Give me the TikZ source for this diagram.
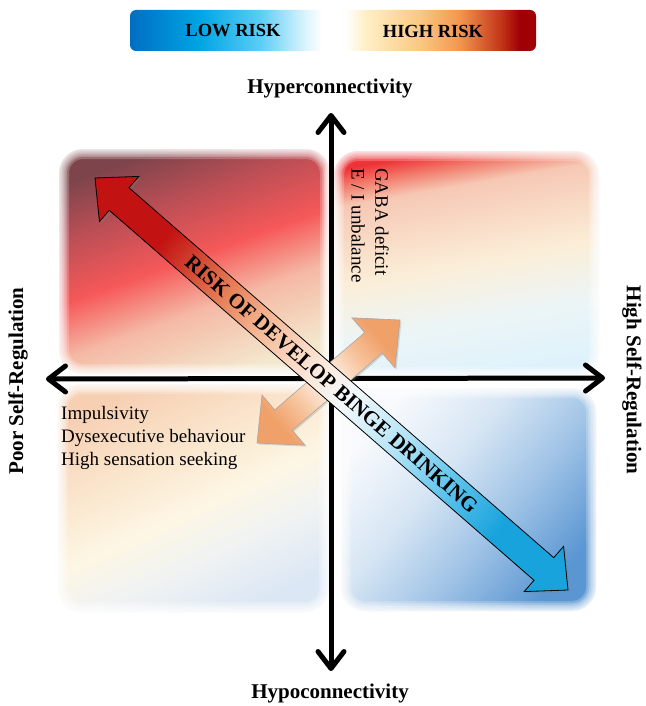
\documentclass[tikz,border=0pt]{standalone}
\usepackage{fontspec}
\setmainfont{Liberation Serif}
\usetikzlibrary{arrows.meta,shadows}

% colour bar
\definecolor{barA}{RGB}{0,110,195}
\definecolor{barB}{RGB}{0,165,228}
\definecolor{barC}{RGB}{90,205,245}
\definecolor{barD}{RGB}{205,240,252}
\definecolor{barE}{RGB}{255,240,200}
\definecolor{barF}{RGB}{250,200,130}
\definecolor{barG}{RGB}{242,150,80}
\definecolor{barH}{RGB}{195,55,25}
\definecolor{barI}{RGB}{160,0,5}
\pgfdeclarehorizontalshading{riskbar}{100bp}{color(0bp)=(barA); color(25bp)=(barA); color(33.6bp)=(barB); color(41bp)=(barC); color(45.9bp)=(barD); color(48.6bp)=(white); color(51.5bp)=(white); color(53.9bp)=(barE); color(60.7bp)=(barF); color(65.6bp)=(barG); color(70.6bp)=(barH); color(73bp)=(barI); color(100bp)=(barI)}

% top-left quadrant
\definecolor{tlA}{RGB}{125,68,75}
\definecolor{tlB}{RGB}{185,78,85}
\definecolor{tlC}{RGB}{246,88,88}
\definecolor{tlD}{RGB}{245,185,165}
\definecolor{tlE}{RGB}{243,232,205}
\pgfdeclarehorizontalshading{tlq}{100bp}{color(0bp)=(tlA); color(25bp)=(tlA); color(36bp)=(tlB); color(49bp)=(tlC); color(60bp)=(tlD); color(75bp)=(tlE); color(100bp)=(tlE)}

% top-right quadrant
\definecolor{trA}{RGB}{238,50,55}
\definecolor{trB}{RGB}{242,120,105}
\definecolor{trC}{RGB}{246,200,180}
\definecolor{trD}{RGB}{251,238,216}
\definecolor{trE}{RGB}{236,245,246}
\definecolor{trF}{RGB}{222,242,252}
\pgfdeclarehorizontalshading{trq}{100bp}{color(0bp)=(trA); color(25bp)=(trA); color(28.5bp)=(trB); color(33bp)=(trC); color(50bp)=(trD); color(62bp)=(trE); color(75bp)=(trF); color(100bp)=(trF)}

% bottom-left quadrant
\definecolor{blA}{RGB}{247,208,180}
\definecolor{blB}{RGB}{250,230,205}
\definecolor{blC}{RGB}{253,246,228}
\definecolor{blD}{RGB}{240,243,242}
\definecolor{blE}{RGB}{220,231,245}
\pgfdeclarehorizontalshading{blq}{100bp}{color(0bp)=(blA); color(25bp)=(blA); color(40bp)=(blB); color(52bp)=(blC); color(62bp)=(blD); color(75bp)=(blE); color(100bp)=(blE)}

% bottom-right quadrant
\definecolor{brA}{RGB}{248,250,253}
\definecolor{brB}{RGB}{215,230,244}
\definecolor{brC}{RGB}{160,195,230}
\definecolor{brD}{RGB}{90,150,210}
\pgfdeclarehorizontalshading{brq}{100bp}{color(0bp)=(brA); color(25bp)=(brA); color(42bp)=(brB); color(58bp)=(brC); color(75bp)=(brD); color(100bp)=(brD)}

% big diagonal arrow
\definecolor{baA}{RGB}{195,18,18}
\definecolor{baB}{RGB}{228,125,85}
\definecolor{baC}{RGB}{245,185,150}
\definecolor{baD}{RGB}{252,232,218}
\definecolor{baE}{RGB}{242,248,252}
\definecolor{baF}{RGB}{182,228,246}
\definecolor{baG}{RGB}{95,196,236}
\definecolor{baH}{RGB}{25,163,220}
\pgfdeclarehorizontalshading{bigarrow}{100bp}{color(0bp)=(baA); color(25.1bp)=(baA); color(34.1bp)=(baB); color(40bp)=(baC); color(47.5bp)=(baD); color(52.5bp)=(baE); color(60bp)=(baF); color(67.4bp)=(baG); color(74.9bp)=(baH); color(100bp)=(baH)}

% small double arrow
\definecolor{saA}{RGB}{240,160,105}
\definecolor{saB}{RGB}{247,198,160}
\definecolor{saC}{RGB}{255,250,246}
\pgfdeclarehorizontalshading{smallarrow}{100bp}{color(0bp)=(saA); color(25.4bp)=(saA); color(37bp)=(saB); color(50bp)=(saC); color(63bp)=(saB); color(74.6bp)=(saA); color(100bp)=(saA)}

\begin{document}
\begin{tikzpicture}[x=1pt,y=-1pt,
  lbl/.style={font=\fontsize{21}{25}\selectfont\bfseries, inner sep=0pt},
  barlbl/.style={font=\fontsize{18.5}{22}\selectfont\bfseries, inner sep=0pt},
  txt/.style={font=\fontsize{19}{23}\selectfont, inner sep=0pt},
  soft/.style={postaction={draw=white,line width=20pt,opacity=.22},
               postaction={draw=white,line width=16pt,opacity=.22},
               postaction={draw=white,line width=13pt,opacity=.22},
               postaction={draw=white,line width=10pt,opacity=.22},
               postaction={draw=white,line width=7pt,opacity=.22},
               postaction={draw=white,line width=5pt,opacity=.22},
               postaction={draw=white,line width=3pt,opacity=.22},
               postaction={draw=white,line width=1.5pt,opacity=.22}},
  quad/.style={rounded corners=24pt, soft},
  axisline/.style={line width=5pt,
     {Straight Barb[length=17pt,width=26pt,line cap=round,line join=round]}-{Straight Barb[length=17pt,width=26pt,line cap=round,line join=round]}},
]
\useasboundingbox (0,0) rectangle (645,706);
\fill[white] (0,0) rectangle (645,706);

% colour bar
\shade[shading=riskbar, rounded corners=6pt] (130,10) rectangle (536,51);
\node[barlbl] (lowrisk) at (233,31) {LOW RISK};
\node[barlbl] (highrisk) at (433,31) {HIGH RISK};

% quadrants
\shade[shading=tlq, shading angle=-70, quad] (59,149) rectangle (330,374);
\shade[shading=trq, shading angle=-80, quad] (334,151) rectangle (599,377);
\shade[shading=blq, shading angle=-65, quad] (58,384) rectangle (329,612);
\shade[shading=brq, shading angle=-40, quad] (341,388) rectangle (596,611);

% axes
\coordinate (vtop) at (331,113);
\coordinate (vbot) at (331,671);
\coordinate (hleft) at (46,379);
\coordinate (hright) at (605,378);
\draw[axisline] (vbot) -- (vtop);
\draw[axisline] (hleft) -- (hright);

% axis labels
\node[lbl] (hyper) at (330,88) {Hyperconnectivity};
\node[lbl] (hypo) at (330,693) {Hypoconnectivity};
\node[lbl, rotate=90] (poor) at (18,381) {Poor Self-Regulation};
\node[lbl, rotate=-90] (highsr) at (632,380) {High Self-Regulation};

% quadrant texts
\node[txt, rotate=-90, anchor=west] (gaba) at (382,168) {GABA deficit};
\node[txt, rotate=-90, anchor=west] (ei) at (358,168) {E / I unbalance};
\node[txt, anchor=north west, align=left] (traits) at (61,406)
  {Impulsivity\\Dysexecutive behaviour\\High sensation seeking};

% small double arrow
\shadedraw[shading=smallarrow, shading angle=40.7, draw=gray!70, line width=.6pt,
  drop shadow={opacity=.25, shadow xshift=1.5pt, shadow yshift=-1.5pt}]
  (257,443) -- (305.06,445.19) -- (292.34,430.41) -- (382.26,353.07)
  -- (394.98,367.85) -- (400,320) -- (351.94,317.81) -- (364.66,332.59)
  -- (274.74,409.93) -- (262.02,395.15) -- cycle;

% big diagonal arrow
\shadedraw[shading=bigarrow, shading angle=-41.05, draw=black, line width=.8pt,
  drop shadow={opacity=.3, shadow xshift=2pt, shadow yshift=-2pt}]
  (95,178) -- (138.83,176.40) -- (128.98,187.71) -- (553.72,557.67)
  -- (563.57,546.36) -- (568,590) -- (524.17,591.60) -- (534.02,580.29)
  -- (109.28,210.33) -- (99.43,221.64) -- cycle;
\node[lbl, rotate=-41.05] (risktext) at (331.5,384) {RISK OF DEVELOP BINGE DRINKING};
\end{tikzpicture}
\end{document}
